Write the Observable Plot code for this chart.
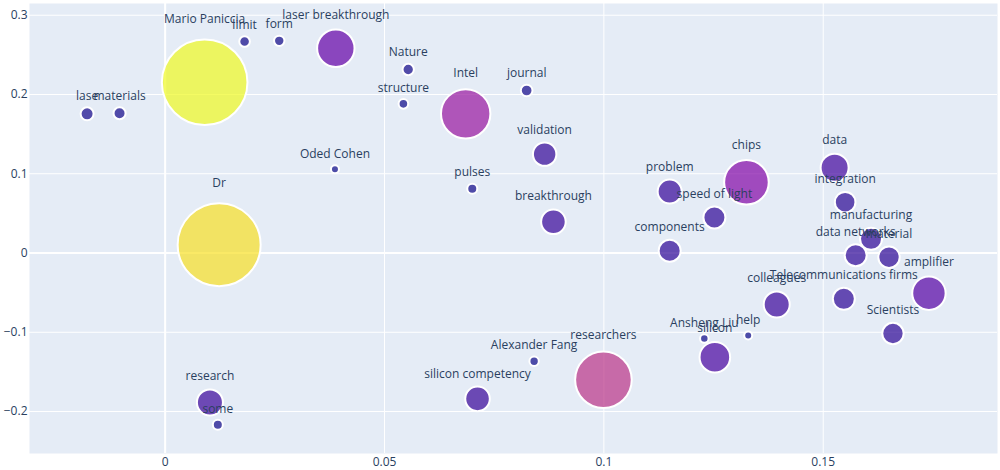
<!DOCTYPE html>
<html><head><meta charset="utf-8">
<script src="https://cdn.jsdelivr.net/npm/d3@7"></script>
<script src="https://cdn.jsdelivr.net/npm/@observablehq/plot@0.6"></script>
<style>
html,body{margin:0;padding:0;background:#fff;}
#chart svg{display:block;}
</style>
</head><body><div id="chart"></div>
<script>
const labels = ["Mario Paniccia","limit","form","laser breakthrough","lase","materials","Oded Cohen","Dr","Nature","structure","Intel","journal","validation","pulses","breakthrough","chips","data","problem","integration","speed of light","components","data networks","material","manufacturing","amplifier","Telecommunications firms","colleagues","Scientists","Ansheng Liu","help","silicon","researchers","Alexander Fang","silicon competency","research","some"];
const xs = [0.0090,0.0181,0.0260,0.0389,-0.0178,-0.0104,0.0387,0.0123,0.0554,0.0543,0.0685,0.0824,0.0865,0.0700,0.0885,0.1325,0.1526,0.1150,0.1550,0.1252,0.1150,0.1574,0.1650,0.1609,0.1741,0.1547,0.1394,0.1659,0.1229,0.1329,0.1253,0.0999,0.0841,0.0712,0.0102,0.0120];
const ys = [0.2155,0.2668,0.2677,0.2584,0.1756,0.1764,0.1057,0.0105,0.2315,0.1882,0.1756,0.2050,0.1247,0.0810,0.0394,0.0893,0.1075,0.0776,0.0641,0.0448,0.0028,-0.0028,-0.0053,0.0179,-0.0507,-0.0578,-0.0650,-0.1016,-0.1079,-0.1041,-0.1315,-0.1600,-0.1365,-0.1840,-0.1886,-0.2168];
const weights = [1832,28,27,350,42,36,16,1722,32,23,610,34,137,25,151,497,196,144,106,121,121,121,114,121,279,121,169,114,18,16,234,801,22,151,169,25];
const xTicks = [0, 0.05, 0.1, 0.15];
const yTicks = [-0.2, -0.1, 0, 0.1, 0.2, 0.3];

const W = 1000, H = 470, mL = 29, mR = 3, mT = 3, mB = 17;
const xDomain = [-0.03093, 0.18973];
const yDomain = [-0.25296, 0.31479];
const rMax = 42.8;
const rDomain = [0, d3.max(weights)];
const rScale = d3.scaleSqrt().domain(rDomain).range([0, rMax]);
const pxPerY = (H - mT - mB) / (yDomain[1] - yDomain[0]);

const data = labels.map((label, i) => ({label, x: xs[i], y: ys[i], w: weights[i]}));
const labelData = data.map(d => ({...d, ly: d.y + (1.232 * rScale(d.w) + 10) / pxPerY}));

const font = '"Open Sans", verdana, arial, sans-serif';
const fmt = d3.format("~g");

const plot = Plot.plot({
  width: W, height: H,
  marginLeft: mL, marginRight: mR, marginTop: mT, marginBottom: mB,
  style: {fontFamily: font, fontSize: "12px", color: "#2a3f5f", background: "#fff"},
  x: {domain: xDomain},
  y: {domain: yDomain},
  r: {type: "sqrt", domain: rDomain, range: [0, rMax]},
  color: {type: "linear", scheme: "plasma", domain: d3.extent(weights)},
  marks: [
    Plot.frame({fill: "#E5ECF6", stroke: "none"}),
    Plot.gridX(xTicks, {stroke: "#fff", strokeOpacity: 1, strokeWidth: 1}),
    Plot.gridY(yTicks, {stroke: "#fff", strokeOpacity: 1, strokeWidth: 1}),
    Plot.ruleX([0], {stroke: "#fff", strokeWidth: 2}),
    Plot.ruleY([0], {stroke: "#fff", strokeWidth: 2}),
    Plot.axisX(xTicks, {tickSize: 0, tickPadding: 4, tickFormat: fmt, fill: "#2a3f5f", fontSize: 12, label: null}),
    Plot.axisY(yTicks, {tickSize: 0, tickPadding: 2, tickFormat: fmt, fill: "#2a3f5f", fontSize: 12, label: null}),
    Plot.dot(data, {x: "x", y: "y", r: "w", fill: "w", fillOpacity: 0.7, stroke: "#fff", strokeWidth: 2, sort: null}),
    Plot.text(labelData, {x: "x", y: "ly", text: "label", fill: "#2a3f5f", fontSize: 12, fontFamily: font})
  ]
});
document.getElementById("chart").appendChild(plot);
</script>
</body></html>
